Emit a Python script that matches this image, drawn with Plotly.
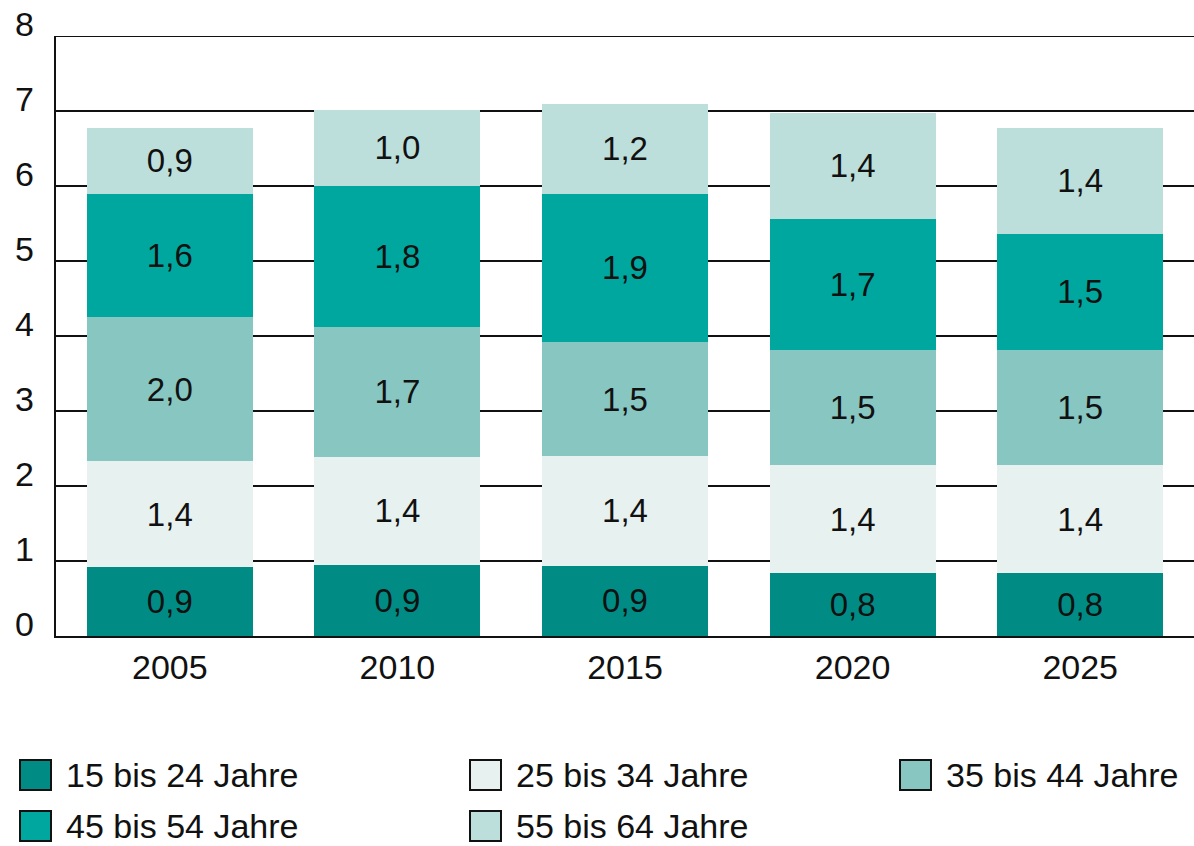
import plotly.graph_objects as go

years = ["2005", "2010", "2015", "2020", "2025"]
series_names = ["15 bis 24 Jahre", "25 bis 34 Jahre", "35 bis 44 Jahre", "45 bis 54 Jahre", "55 bis 64 Jahre"]
colors = ["#008C84", "#E7F1F0", "#87C6C1", "#00A79E", "#BDDFDC"]

# bar heights (millions)
v_15_24 = [0.92, 0.95, 0.94, 0.84, 0.84]
v_25_34 = [1.41, 1.44, 1.46, 1.44, 1.44]
v_35_44 = [1.92, 1.735, 1.52, 1.54, 1.54]
v_45_54 = [1.65, 1.875, 1.98, 1.74, 1.54]
v_55_64 = [0.88, 1.02, 1.19, 1.42, 1.42]

# printed labels
l_15_24 = ["0,9", "0,9", "0,9", "0,8", "0,8"]
l_25_34 = ["1,4", "1,4", "1,4", "1,4", "1,4"]
l_35_44 = ["2,0", "1,7", "1,5", "1,5", "1,5"]
l_45_54 = ["1,6", "1,8", "1,9", "1,7", "1,5"]
l_55_64 = ["0,9", "1,0", "1,2", "1,4", "1,4"]
totals = ["6,6", "6,9", "7,0", "6,9", "6,6"]

y_ticks = [0, 1, 2, 3, 4, 5, 6, 7, 8]

values = [v_15_24, v_25_34, v_35_44, v_45_54, v_55_64]
labels = [l_15_24, l_25_34, l_35_44, l_45_54, l_55_64]

FONT = "Liberation Sans, Arial, sans-serif"
INK = "#111111"

fig = go.Figure()
for name, vals, labs, col in zip(series_names, values, labels, colors):
    fig.add_trace(go.Bar(
        x=years, y=vals, name=name, text=labs,
        texttemplate="%{text}", textposition="inside",
        insidetextanchor="middle", textangle=0,
        textfont=dict(color=INK, size=33, family=FONT),
        marker=dict(color=col, line=dict(width=0)),
        showlegend=False, hoverinfo="skip",
    ))

L, R, T, B = 56, 0, 36, 210
W, H = 1194, 846
pw, ph = W - L - R, H - T - B


def px_x(px):
    return (px - L) / pw


def px_y(py):
    return (H - B - py) / ph


annotations = []
# totals above bars
for yr, t in zip(years, totals):
    annotations.append(dict(x=yr, y=7.5, xref="x", yref="y", text=t, showarrow=False,
                            font=dict(size=33, color=INK, family=FONT)))
# y tick labels (slightly raised above gridlines)
for t in y_ticks:
    annotations.append(dict(x=0, y=t, xref="paper", yref="y", text=str(t), showarrow=False,
                            xanchor="right", xshift=-20, yshift=12,
                            font=dict(size=34, color=INK, family=FONT)))

shapes = []
# top gridline at the range edge
shapes.append(dict(type="line", xref="paper", yref="y", x0=0, x1=1, y0=8, y1=8,
                   line=dict(color=INK, width=2), layer="below"))

# manual legend
leg_pos = [(20, 775), (470, 775), (900, 775), (20, 826), (470, 826)]
for (lx, ly), name, col in zip(leg_pos, series_names, colors):
    shapes.append(dict(type="rect", xref="paper", yref="paper",
                       x0=px_x(lx), x1=px_x(lx + 31), y0=px_y(ly + 15), y1=px_y(ly - 15),
                       fillcolor=col, line=dict(color=INK, width=2)))
    annotations.append(dict(x=px_x(lx + 44), y=px_y(ly), xref="paper", yref="paper",
                            text=name, showarrow=False, xanchor="left", yanchor="middle",
                            font=dict(size=34, color=INK, family=FONT)))

fig.update_layout(
    barmode="stack", bargap=0.27,
    width=W, height=H,
    margin=dict(l=L, r=R, t=T, b=B, pad=0),
    paper_bgcolor="white", plot_bgcolor="white",
    font=dict(family=FONT, color=INK),
    uniformtext=dict(minsize=33, mode="show"),
    annotations=annotations, shapes=shapes,
    showlegend=False,
)
fig.update_xaxes(type="category", range=[-0.5, 4.5], showline=True, linecolor=INK,
                 linewidth=2, ticks="", showgrid=False,
                 tickfont=dict(size=34, color=INK, family=FONT))
fig.update_yaxes(range=[0, 8], tickvals=y_ticks, showticklabels=False, showgrid=True,
                 gridcolor=INK, gridwidth=2, showline=True, linecolor=INK,
                 linewidth=2, zeroline=False, ticks="")

fig.write_html("out.html", config={"displayModeBar": False},
               post_script="document.body.style.margin='0';")
